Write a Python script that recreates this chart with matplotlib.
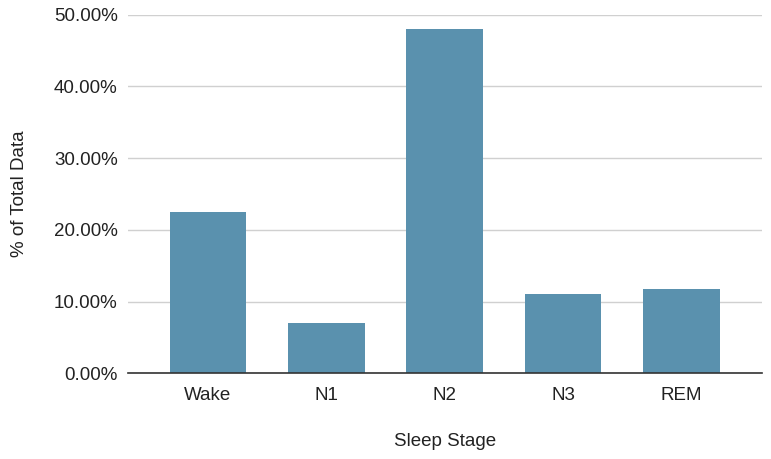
import numpy as np
import matplotlib.pyplot as plt
from matplotlib.ticker import FuncFormatter

stages = ['Wake', 'N1', 'N2', 'N3', 'REM']
pct = [22.45, 7.0, 47.95, 11.03, 11.77]

plt.rcParams['font.family'] = ['Liberation Sans', 'DejaVu Sans']

fig = plt.figure(figsize=(7.71, 4.59), dpi=100)
ax = fig.add_axes([0.1654, 0.1867, 0.988 - 0.1654, 0.968 - 0.1867])

x = np.arange(len(stages))
ax.bar(x, pct, width=0.65, color='#5a91ae', zorder=3)

ax.set_ylim(0, 50)
ax.set_xlim(-0.68, len(stages) - 0.32)
ax.set_yticks(np.arange(0, 51, 10))
ax.yaxis.set_major_formatter(FuncFormatter(lambda v, p: f'{v:.2f}%'))
ax.set_xticks(x)
ax.set_xticklabels(stages)

ax.grid(axis='y', color='#d0d0d0', linewidth=1, zorder=0)
for s in ['top', 'right', 'left']:
    ax.spines[s].set_visible(False)
ax.spines['bottom'].set_color('#333333')
ax.spines['bottom'].set_linewidth(1.2)
ax.spines['bottom'].set_zorder(4)
ax.tick_params(axis='both', length=0, labelsize=13.5, colors='#222222', pad=7)
ax.tick_params(axis='x', pad=10)

ax.set_xlabel('Sleep Stage', fontsize=13.5, color='#222222', labelpad=21)
ax.set_ylabel('% of Total Data', fontsize=13.5, color='#222222', labelpad=19)

fig.savefig('out.png', dpi=100)
